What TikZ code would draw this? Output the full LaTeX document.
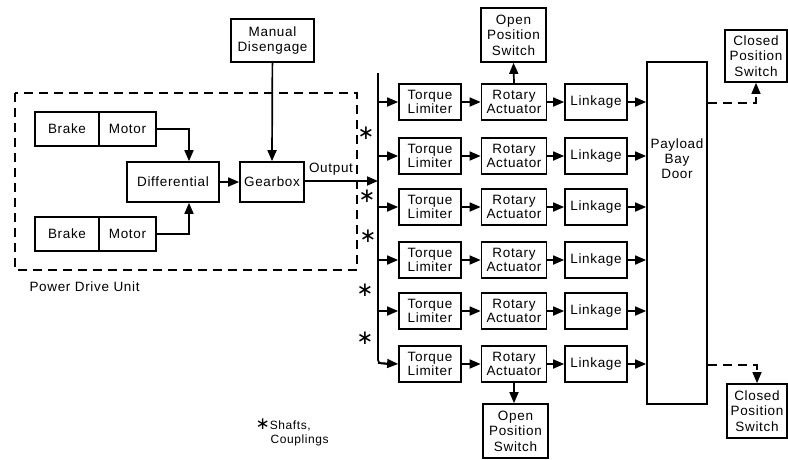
\documentclass[tikz,border=0pt]{standalone}
\usepackage{fontspec}
\setmainfont{Liberation Sans}[LetterSpace=5]
\newfontfamily\dejavu{DejaVu Sans}
\usetikzlibrary{arrows.meta}
\begin{document}
\begin{tikzpicture}[x=1pt,y=-1pt,
  every node/.style={font=\fontsize{13.5}{14.5}\selectfont},
  blk/.style={draw,line width=1.7pt,inner sep=0pt,align=center,minimum height=36pt},
  conn/.style={line width=1.7pt},
  arr/.style={line width=1.7pt,-{Triangle[length=11pt,width=9pt]}},
  darr/.style={line width=1.3pt,dash pattern=on 9pt off 6pt,-{Triangle[length=11pt,width=9pt]}},
  star/.style={font=\dejavu\fontsize{20}{20}\selectfont,inner sep=0pt}]
\useasboundingbox (0,0) rectangle (788,459);

% Power drive unit
\draw[line width=1.2pt,dash pattern=on 9pt off 6pt] (15,93) rectangle (357,270);
\node[anchor=west] (pdu) at (26,287) {Power Drive Unit};

\node[blk,minimum width=83pt,minimum height=43pt] (man) at (272.5,40.5) {Manual\\Disengage};

\node[blk,minimum width=64pt,minimum height=34pt] (b1) at (67,129) {Brake};
\node[blk,minimum width=57pt,minimum height=34pt] (m1) at (127.5,129) {Motor};
\node[blk,minimum width=64pt,minimum height=34pt] (b2) at (67,234) {Brake};
\node[blk,minimum width=57pt,minimum height=34pt] (m2) at (127.5,234) {Motor};

\node[blk,minimum width=92pt,minimum height=40pt] (dif) at (173,182) {Differential};
\node[blk,minimum width=64pt,minimum height=40pt] (gb) at (272,182) {Gearbox};

\draw[arr] (m1.east) -| (dif.north -| 189,0);
\draw[arr] (m2.east) -| (dif.south -| 189,0);
\draw[arr] (dif) -- (gb);
\draw[arr] (man) -- (gb.north);

% bus
\coordinate (btop) at (378,73);
\coordinate (bbot) at (378,363);
\draw[arr] (gb.east |- 0,181) -- (378,181);
\node[anchor=south] (out) at (331,179) {Output};

% rows
\foreach \i/\y in {1/102,2/156,3/207,4/260,5/311,6/364}{
  \node[blk,minimum width=62pt] (tl\i) at (430,\y) {Torque\\Limiter};
  \node[blk,minimum width=65pt] (ra\i) at (514,\y) {Rotary\\Actuator};
  \node[blk,minimum width=62pt] (lk\i) at (596,\y) {Linkage};
  \draw[arr] (tl\i) -- (ra\i);
  \draw[arr] (ra\i) -- (lk\i);
}
\draw[conn,rounded corners=3pt] (btop) -- (bbot) -- ([xshift=-11pt]tl6.west);
\draw[arr] (bbot) -- (tl6.west);
\foreach \i in {1,...,5}{
  \draw[arr] (tl\i.west -| btop) -- (tl\i.west);
}

\node[blk,minimum width=60pt,minimum height=342pt] (pbd) at (677,233) {};
\node[align=center,font=\fontsize{13.5}{15}\selectfont] (pbdt) at (677,159) {Payload\\Bay\\Door};
\foreach \i in {1,...,6}{
  \draw[arr] (lk\i) -- (lk\i -| pbd.west);
}

% switches
\tikzset{sw/.style={blk,minimum height=54pt,font=\fontsize{13.5}{15.5}\selectfont}}
\node[sw,minimum width=65pt] (os1) at (513.5,35) {Open\\Position\\Switch};
\node[sw,minimum width=65pt] (os2) at (515.5,431) {Open\\Position\\Switch};
\node[sw,minimum width=62pt,minimum height=52pt] (cs1) at (756,56) {Closed\\Position\\Switch};
\node[sw,minimum width=60pt] (cs2) at (757,411) {Closed\\Position\\Switch};
\draw[arr] (ra1.north) -- (os1.south);
\draw[arr] (ra6.south) -- (ra6.south |- os2.north);
\draw[darr] (pbd.east |- 0,103) -| (cs1.south);
\draw[darr] (pbd.east |- 0,365) -| (cs2.north);

% shafts
\foreach \i/\x/\y in {1/366/133,2/367/196,3/368/236,4/365/290,5/365/338}{
  \node[star] (s\i) at (\x,\y) {∗};
}
\node[anchor=west,align=left,font=\fontsize{12}{14}\selectfont] (note) at (252,432) {{\dejavu\fontsize{17}{14}\selectfont ∗}Shafts,\\\hspace{15pt}Couplings};
\end{tikzpicture}
\end{document}
